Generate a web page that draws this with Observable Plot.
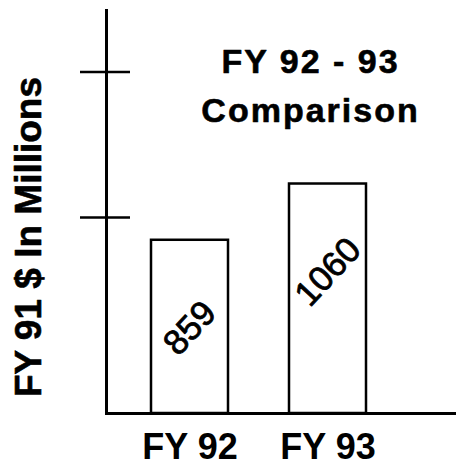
<!DOCTYPE html>
<html>
<head>
<meta charset="utf-8">
<script src="https://cdn.jsdelivr.net/npm/d3@7"></script>
<script src="https://cdn.jsdelivr.net/npm/@observablehq/plot@0.6"></script>
<style>
  html, body { margin: 0; padding: 0; background: #fff; }
  svg { font-family: "Liberation Sans", Arial, Helvetica, sans-serif; }
</style>
</head>
<body>
<div id="chart"></div>
<script>
// Data
const categories = ["FY 92", "FY 93"];
const values = [859, 1060];
const yDomain = [240, 1680];      // visible value range of the vertical axis
const yTicks = [940, 1460];       // unlabeled tick marks on the vertical axis
const titleText = "FY 92 - 93\nComparison";
const yLabel = "FY 91 $ In Millions";

const data = categories.map((c, i) => ({category: c, value: values[i]}));

const chart = Plot.plot({
  width: 456,
  height: 466,
  marginLeft: 106,
  marginRight: 0,
  marginTop: 10,
  marginBottom: 53,
  style: {background: "#fff", color: "#000"},
  x: {
    domain: categories,
    range: [131, 386],
    paddingInner: 0.44,
    paddingOuter: 0.14,
    axis: null
  },
  y: {domain: yDomain, axis: null},
  marks: [
    Plot.barY(data, {
      x: "category",
      y1: yDomain[0],
      y2: "value",
      fill: "#fff",
      stroke: "#000",
      strokeWidth: 2.5
    }),
    Plot.frame({anchor: "left", stroke: "#000", strokeWidth: 3}),
    Plot.ruleY([yDomain[0]], {stroke: "#000", strokeWidth: 3}),
    Plot.axisY({
      ticks: yTicks,
      tickSize: 50,
      dx: 24,
      tickFormat: () => "",
      label: null,
      strokeWidth: 2.5,
      stroke: "#000"
    }),
    Plot.axisX({
      tickSize: 0,
      tickPadding: 20,
      fontSize: 36,
      fontWeight: "bold",
      label: null,
      fill: "#000",
      stroke: "#000",
      strokeWidth: 0.6
    }),
    Plot.text(data, {
      x: "category",
      y: "value",
      text: d => String(d.value),
      rotate: -47,
      dy: 88,
      fontSize: 35,
      fill: "#000",
      stroke: "#000",
      strokeWidth: 0.8
    }),
    Plot.text([titleText], {
      frameAnchor: "top",
      dx: 29,
      dy: 27,
      lineAnchor: "top",
      lineHeight: 1.45,
      fontSize: 34,
      fontWeight: "bold",
      fill: "#000",
      stroke: "#000",
      strokeWidth: 0.6
    }),
    Plot.text([yLabel], {
      frameAnchor: "left",
      textAnchor: "middle",
      dx: -66,
      dy: 25,
      rotate: -90,
      lineAnchor: "bottom",
      fontSize: 37,
      fontWeight: "bold",
      fill: "#000",
      stroke: "#000",
      strokeWidth: 0.6
    })
  ]
});

document.getElementById("chart").appendChild(chart);
// widen the title letters like the reference
d3.select(chart).selectAll("text")
  .filter(function () { return /Comparison/.test(this.textContent); })
  .style("letter-spacing", "2px");
</script>
</body>
</html>
